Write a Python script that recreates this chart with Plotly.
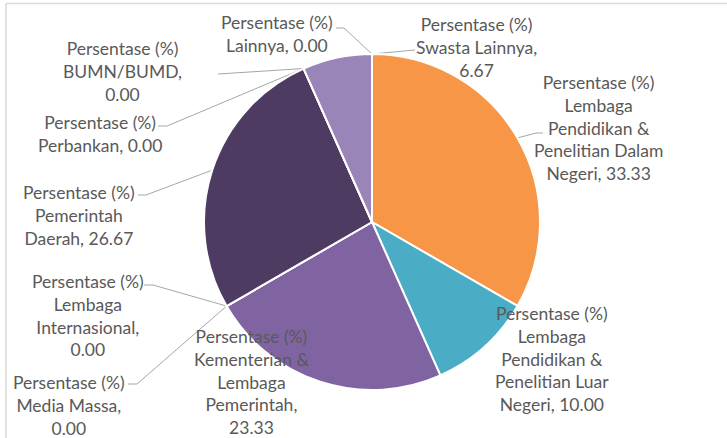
import numpy as np
import plotly.graph_objects as go

# --- data ---
categories = [
    "Lembaga Pendidikan & Penelitian Dalam Negeri",
    "Lembaga Pendidikan & Penelitian Luar Negeri",
    "Kementerian & Lembaga Pemerintah",
    "Media Massa",
    "Lembaga Internasional",
    "Pemerintah Daerah",
    "Perbankan",
    "BUMN/BUMD",
    "Swasta Lainnya",
    "Lainnya",
]
values = [33.33, 10.00, 23.33, 0.00, 0.00, 26.67, 0.00, 0.00, 6.67, 0.00]
# wrapped names as shown in the data labels
label_names = [
    "Lembaga<br>Pendidikan &<br>Penelitian Dalam<br>Negeri",
    "Lembaga<br>Pendidikan &<br>Penelitian Luar<br>Negeri",
    "Kementerian &<br>Lembaga<br>Pemerintah,<br>",
    "Media Massa,<br>",
    "Lembaga<br>Internasional,<br>",
    "Pemerintah<br>Daerah",
    "Perbankan",
    "BUMN/BUMD,<br>",
    "Swasta Lainnya,<br>",
    "Lainnya",
]
series_name = "Persentase (%)"

colors = ["#F79646", "#4BACC6", "#8064A2", "#2C4D75", "#772C2A",
          "#4D3B62", "#276A7C", "#B65708", "#9A85B8", "#729ACA"]

# --- layout (pixels) ---
W, H = 727, 438
cx, cy, R = 372, 222, 168
# label centre, leader start, elbow length, where on the slice the leader ends
label_xy = [(598, 128), (552, 359), (251, 382), (69, 405), (88, 315),
            (79, 215), (100, 134), (122, 71), (476, 47), (277, 34)]
leader_start = [(543, 133), None, None, (128, 384), (144, 285),
                (138, 195), (158, 126), (218, 74), (415, 50), (336, 28)]
elbow = [-7, 0, 0, 9, 9, 8, 9, 0, 0, 8]
anchor_at = [0.5, None, None, 0.5, 0.5, 0.5, 0.5, 0.5, 1.0, 0.5]

fig = go.Figure()

fig.add_trace(go.Pie(
    labels=categories, values=values, sort=False, direction="clockwise",
    rotation=0, textinfo="none", showlegend=False,
    marker=dict(colors=colors, line=dict(color="white", width=2)),
    domain=dict(x=[(cx - R) / W, (cx + R) / W],
                y=[(H - cy - R) / H, (H - cy + R) / H]),
))

# leader lines, ending on the slice edge computed from the values
total = sum(values)
cum = np.concatenate([[0], np.cumsum(values)])
for i, v in enumerate(values):
    if leader_start[i] is None:
        continue
    frac = (cum[i] + anchor_at[i] * v) / total
    ang = 2 * np.pi * frac
    ex, ey = cx + R * np.sin(ang), cy - R * np.cos(ang)
    sx, sy = leader_start[i]
    xs = [sx, sx + elbow[i], ex]
    ys = [sy, sy, ey]
    fig.add_trace(go.Scatter(x=xs, y=ys, mode="lines", hoverinfo="skip",
                             line=dict(color="#A6A6A6", width=1),
                             showlegend=False))

for i, v in enumerate(values):
    name = label_names[i]
    sep = "" if name.endswith("<br>") else ", "
    txt = f"{series_name}<br>{name}{sep}{v:.2f}"
    fig.add_annotation(x=label_xy[i][0], y=label_xy[i][1], text=txt,
                       showarrow=False, xanchor="center", yanchor="middle",
                       align="center",
                       font=dict(family="Lato", size=17.5, color="#595959"))

# chart frame (top and left edges visible)
fig.add_shape(type="line", x0=6, y0=3.5, x1=W, y1=3.5,
              line=dict(color="#D9D9D9", width=1.5))
fig.add_shape(type="line", x0=6, y0=3.5, x1=6, y1=H,
              line=dict(color="#D9D9D9", width=1.5))

fig.update_layout(
    width=W, height=H,
    margin=dict(l=0, r=0, t=0, b=0),
    paper_bgcolor="white", plot_bgcolor="rgba(0,0,0,0)",
    xaxis=dict(range=[0, W], visible=False, fixedrange=True),
    yaxis=dict(range=[H, 0], visible=False, fixedrange=True),
)

# page body has a default 8px margin, drop it so the chart fills the window
fig.write_html("out.html", config={"displayModeBar": False},
               post_script="document.body.style.margin='0';")
